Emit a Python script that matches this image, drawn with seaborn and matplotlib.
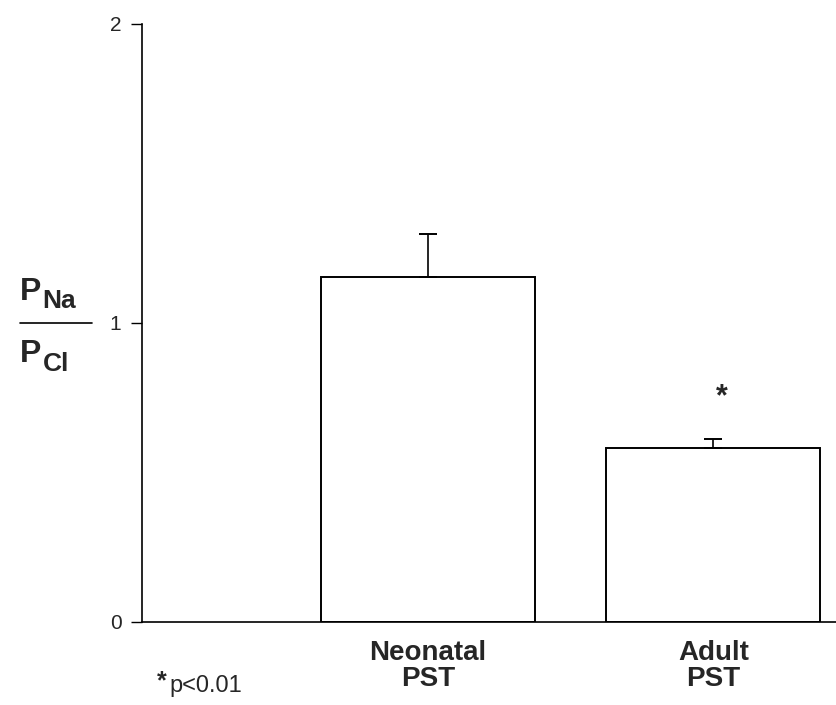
import matplotlib
matplotlib.use('Agg')
import matplotlib.pyplot as plt
from matplotlib.lines import Line2D
import seaborn as sns
import pandas as pd

# values
groups = ['Neonatal\nPST', 'Adult\nPST']
positions = [1, 2]
ratio = [1.154, 0.582]
err = [0.144, 0.030]
yticks = [0, 1, 2]

sns.set_theme(style='white')
plt.rcParams['font.family'] = ['Liberation Sans', 'DejaVu Sans']

df = pd.DataFrame({'pos': positions, 'ratio': ratio, 'group': groups})

fig = plt.figure(figsize=(8.37, 7.05), dpi=100)
ax = fig.add_axes([0.170, 0.118, 0.829, 0.848])

sns.barplot(data=df, x='pos', y='ratio', native_scale=True, width=0.75,
            color='white', edgecolor='black', linewidth=1.4, errorbar=None,
            saturation=1, ax=ax)
ax.errorbar(df['pos'], df['ratio'], yerr=[[0, 0], err], fmt='none',
            ecolor='black', elinewidth=1.2, capsize=6.5, capthick=1.4)

ax.set_xlim(0, 2.43)
ax.set_ylim(0, 2)
ax.set_yticks(yticks)
ax.set_yticklabels([str(t) for t in yticks], fontsize=15)
ax.set_xticks(positions)
ax.set_xticklabels(groups, fontsize=20, fontweight='bold', linespacing=1.0)
ax.tick_params(axis='x', length=0, pad=13)
ax.tick_params(axis='y', direction='out', length=8, width=1, color='black',
               left=True, pad=7)
ax.set_xlabel('')
ax.set_ylabel('')
for s in ['top', 'right']:
    ax.spines[s].set_visible(False)
for s in ['left', 'bottom']:
    ax.spines[s].set_color('black')
    ax.spines[s].set_linewidth(1.2)

# significance marker
ax.text(2.03, 0.75, '*', ha='center', va='center', fontsize=22,
        fontweight='bold')

# y label: P_Na / P_Cl
fig.text(0.024, 0.574, 'P', fontsize=23, fontweight='bold', va='baseline')
fig.text(0.051, 0.563, 'Na', fontsize=19, fontweight='bold', va='baseline')
fig.add_artist(Line2D([0.024, 0.110], [0.542, 0.542], color='black', lw=1.2))
fig.text(0.024, 0.4865, 'P', fontsize=23, fontweight='bold', va='baseline')
fig.text(0.051, 0.474, 'Cl', fontsize=19, fontweight='bold', va='baseline')

# footnote
fig.text(0.188, 0.024, '*', fontsize=18, fontweight='bold', va='baseline')
fig.text(0.203, 0.018, 'p<0.01', fontsize=17, va='baseline')

plt.savefig('out.png', dpi=100, facecolor='white')
